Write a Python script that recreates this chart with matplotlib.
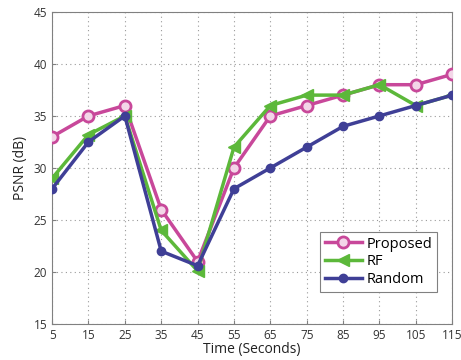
import matplotlib
matplotlib.use('Agg')
import matplotlib.pyplot as plt

# data
time = [5, 15, 25, 35, 45, 55, 65, 75, 85, 95, 105, 115]
proposed = [33, 35, 36, 26, 21, 30, 35, 36, 37, 38, 38, 39]
rf = [29, 33.2, 35, 24, 20.1, 32, 36, 37, 37, 38, 36, 37]
random_sel = [28, 32.5, 35, 22, 20.6, 28, 30, 32, 34, 35, 36, 37]

plt.rcParams['font.family'] = ['Open Sans', 'DejaVu Sans']

fig = plt.figure(figsize=(4.61, 3.6), dpi=100)
ax = fig.add_axes([0.113, 0.1, 0.868, 0.867])

ax.plot(time, proposed, color='#c8489a', lw=2.5, marker='o', ms=8,
        mfc='#f3d6e8', mew=2, label='Proposed', zorder=3)
ax.plot(time, rf, color='#5cb83a', lw=2.5, marker='<', ms=9,
        label='RF', zorder=3)
ax.plot(time, random_sel, color='#3f3f96', lw=2.5, marker='o', ms=6,
        label='Random', zorder=3)

ax.set_xlim(5, 115)
ax.set_ylim(15, 45)
ax.set_xticks(time)
ax.set_yticks(range(15, 46, 5))
ax.grid(True, linestyle=(0, (1, 3)), color='#999999', lw=0.8)
for s in ax.spines.values():
    s.set_color('#808080')
ax.tick_params(colors='#808080', labelcolor='#333333', labelsize=8.5,
               direction='in', length=3)

ax.set_xlabel('Time (Seconds)', fontsize=10, labelpad=0, color='#222222')
ax.set_ylabel('PSNR (dB)', fontsize=10, labelpad=4, color='#222222')

leg = ax.legend(loc='lower right', bbox_to_anchor=(0.98, 0.08),
                fontsize=10.5, fancybox=False, framealpha=1,
                edgecolor='#808080', handlelength=2.6, borderpad=0.3,
                labelspacing=0.2, handletextpad=0.3)
leg.get_frame().set_linewidth(0.8)

plt.savefig('out.png', dpi=100)
